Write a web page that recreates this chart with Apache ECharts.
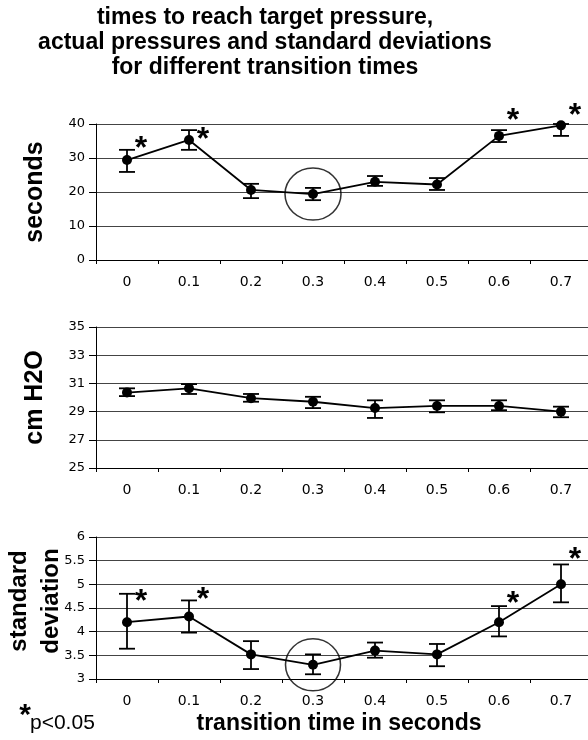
<!DOCTYPE html>
<html>
<head>
<meta charset="utf-8">
<script src="https://cdn.jsdelivr.net/npm/echarts@6/dist/echarts.min.js"></script>
<style>html,body{margin:0;padding:0;background:#fff;}#chart{width:588px;height:740px;}</style>
</head>
<body>
<div id="chart"></div>
<script>
// ---- data ----
const categories = ['0', '0.1', '0.2', '0.3', '0.4', '0.5', '0.6', '0.7'];

const timeMean  = [29.4, 35.3, 20.6, 19.4, 23.0, 22.2, 36.5, 39.6];
const timeUpper = [32.4, 38.2, 22.4, 21.2, 24.7, 24.1, 38.2, 40.0];
const timeLower = [25.9, 32.4, 18.2, 17.6, 21.8, 20.6, 34.7, 36.5];

const pressMean  = [30.35, 30.65, 29.95, 29.7, 29.25, 29.4, 29.4, 29.0];
const pressUpper = [30.65, 30.95, 30.25, 30.05, 29.8, 29.8, 29.8, 29.35];
const pressLower = [30.1, 30.25, 29.7, 29.25, 28.55, 28.95, 29.1, 28.6];

const sdMean  = [4.2, 4.32, 3.52, 3.3, 3.6, 3.52, 4.2, 5.0];
const sdUpper = [4.8, 4.66, 3.8, 3.52, 3.77, 3.74, 4.54, 5.42];
const sdLower = [3.64, 3.98, 3.21, 3.1, 3.45, 3.27, 3.9, 4.62];

// significance markers (value where the asterisk sits), null = not significant
const timeStars = [34.7, 37.4, null, null, null, null, 42.9, 44.4];
const sdStars   = [4.77, 4.81, null, null, null, null, 4.73, 5.66];

// circled (optimal) transition time
const circledIndex = 3;

const timeTicks  = {min: 0, max: 40, interval: 10};
const pressTicks = {min: 25, max: 35, interval: 2};
const sdTicks    = {min: 3, max: 6, interval: 0.5};

// ---- chart ----
const chart = echarts.init(document.getElementById('chart'), null, {renderer: 'canvas'});
const grids = [
  {left: 96, top: 124, width: 496, height: 136, outerBoundsMode: 'none', containLabel: false},
  {left: 96, top: 327, width: 496, height: 141, outerBoundsMode: 'none', containLabel: false},
  {left: 96, top: 537, width: 496, height: 142, outerBoundsMode: 'none', containLabel: false}
];

function xAxis(gi) {
  return {
    type: 'category', gridIndex: gi, data: categories, boundaryGap: true,
    axisLine: {lineStyle: {color: '#000', width: 1}},
    axisTick: {show: true, length: 4, lineStyle: {color: '#000'}},
    axisLabel: {margin: 15, color: '#000', fontFamily: 'DejaVu Sans', fontSize: 14},
    splitLine: {show: false}
  };
}
function yAxis(gi, t, name, nameGap, fontSize) {
  return {
    type: 'value', gridIndex: gi, min: t.min, max: t.max, interval: t.interval,
    name: name, nameLocation: 'middle', nameRotate: 90, nameGap: nameGap, nameMoveOverlap: false,
    nameTextStyle: {fontFamily: 'Liberation Sans', fontWeight: 'bold', fontSize: fontSize, color: '#000'},
    axisLine: {show: true, lineStyle: {color: '#000', width: 1}},
    axisTick: {show: true, length: 7, lineStyle: {color: '#000'}},
    axisLabel: {margin: 11, color: '#000', fontFamily: 'DejaVu Sans', fontSize: 13},
    splitLine: {show: true, lineStyle: {color: '#444', width: 1}}
  };
}

function errorSeries(gi, upper, lower) {
  return {
    type: 'custom', xAxisIndex: gi, yAxisIndex: gi, z: 3,
    data: upper.map((u, i) => [i, u, lower[i]]),
    renderItem: function (params, api) {
      const top = api.coord([api.value(0), api.value(1)]);
      const bot = api.coord([api.value(0), api.value(2)]);
      const hw = 8;
      const st = {stroke: '#000', lineWidth: 1.8};
      return {type: 'group', children: [
        {type: 'line', shape: {x1: top[0], y1: top[1], x2: bot[0], y2: bot[1]}, style: st},
        {type: 'line', shape: {x1: top[0] - hw, y1: top[1], x2: top[0] + hw, y2: top[1]}, style: st},
        {type: 'line', shape: {x1: bot[0] - hw, y1: bot[1], x2: bot[0] + hw, y2: bot[1]}, style: st}
      ]};
    }
  };
}
function lineSeries(gi, mean) {
  return {
    type: 'line', xAxisIndex: gi, yAxisIndex: gi, data: mean, z: 4,
    symbol: 'circle', symbolSize: 10, showSymbol: true,
    lineStyle: {color: '#000', width: 1.8}, itemStyle: {color: '#000'}
  };
}
function starSeries(gi, stars) {
  return {
    type: 'custom', xAxisIndex: gi, yAxisIndex: gi, clip: false, z: 5,
    data: stars.map((v, i) => v == null ? null : [i, v]).filter(d => d),
    renderItem: function (params, api) {
      const p = api.coord([api.value(0), api.value(1)]);
      return {type: 'text', x: p[0] + 14, y: p[1] + 7,
        style: {text: '*', textAlign: 'center', textVerticalAlign: 'middle',
                font: 'bold 32px "Liberation Sans"', fill: '#000'}};
    }
  };
}
function circleSeries(gi, mean, size) {
  return {
    type: 'scatter', xAxisIndex: gi, yAxisIndex: gi, clip: false, z: 6,
    data: [[circledIndex, mean[circledIndex]]],
    symbol: 'circle', symbolSize: size,
    itemStyle: {color: 'rgba(0,0,0,0)', borderColor: '#000', borderWidth: 1.5}
  };
}

const sdAxis = yAxis(2, sdTicks, 'standard\ndeviation', 29, 24);
sdAxis.nameTextStyle.lineHeight = 32;
sdAxis.nameTextStyle.padding = [0, 0, 0, 14];

const option = {
  backgroundColor: '#fff',
  animation: false,
  grid: grids,
  xAxis: [xAxis(0), xAxis(1), xAxis(2)],
  yAxis: [
    yAxis(0, timeTicks, 'seconds', 48, 25),
    yAxis(1, pressTicks, 'cm H2O', 48, 25),
    sdAxis
  ],
  series: [
    errorSeries(0, timeUpper, timeLower), lineSeries(0, timeMean), starSeries(0, timeStars), circleSeries(0, timeMean, [56, 52]),
    errorSeries(1, pressUpper, pressLower), lineSeries(1, pressMean),
    errorSeries(2, sdUpper, sdLower), lineSeries(2, sdMean), starSeries(2, sdStars), circleSeries(2, sdMean, [55, 52])
  ],
  graphic: [
    {type: 'text', x: 265, y: 5, style: {
      text: 'times to reach target pressure,\nactual pressures and standard deviations\nfor different transition times',
      textAlign: 'center', font: 'bold 23px "Liberation Sans"', lineHeight: 25, fill: '#000'}},
    {type: 'text', x: 339, y: 724, style: {text: 'transition time in seconds', textAlign: 'center', textVerticalAlign: 'middle',
      font: 'bold 23px "Liberation Sans"', fill: '#000'}},
    {type: 'text', x: 25, y: 716, style: {text: '*', textAlign: 'center', textVerticalAlign: 'middle',
      font: 'bold 30px "Liberation Sans"', fill: '#000'}},
    {type: 'text', x: 30, y: 723, style: {text: 'p<0.05', textAlign: 'left', textVerticalAlign: 'middle',
      font: '21px "Liberation Sans"', fill: '#000'}}
  ]
};
chart.setOption(option);
</script>
</body>
</html>
